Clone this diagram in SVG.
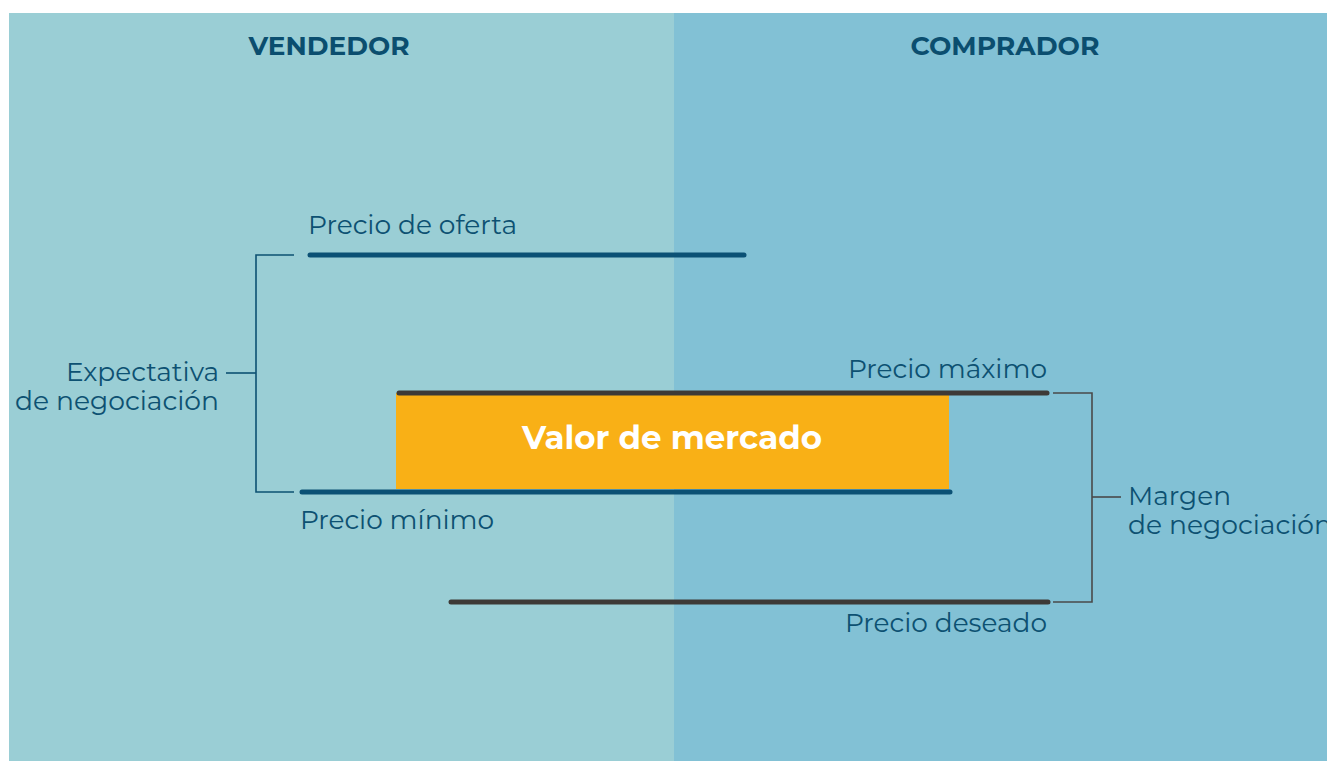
<svg xmlns="http://www.w3.org/2000/svg" width="1327" height="761" viewBox="0 0 1327 761">
<style>
.lbl{font-family:"Montserrat","Open Sans","Liberation Sans",sans-serif;font-size:26px;fill:#0D5172}
.hdr{font-family:"Montserrat","Open Sans","Liberation Sans",sans-serif;font-size:25px;font-weight:bold;fill:#0B4E6F}
.bar-blue{stroke:#0B5175;stroke-width:5;stroke-linecap:round;fill:none}
.bar-gray{stroke:#3D3A37;stroke-width:5;stroke-linecap:round;fill:none}
.br-blue{stroke:#0D5172;stroke-width:1.6;fill:none}
.br-gray{stroke:#4A4A4A;stroke-width:1.6;fill:none}
</style>
<rect x="0" y="0" width="1327" height="761" fill="#FFFFFF"/>
<g id="panel-vendedor">
<rect x="9" y="13" width="665" height="748" fill="#9ACED5"/>
<text class="hdr" x="329" y="55" text-anchor="middle" textLength="161" lengthAdjust="spacingAndGlyphs">VENDEDOR</text>
</g>
<g id="panel-comprador">
<rect x="674" y="13" width="653" height="748" fill="#82C1D5"/>
<text class="hdr" x="1005" y="55" text-anchor="middle" textLength="189" lengthAdjust="spacingAndGlyphs">COMPRADOR</text>
</g>
<g id="valor-mercado">
<rect x="396" y="393" width="553" height="96" fill="#F9B016"/>
<text x="672" y="449" text-anchor="middle" font-family="Montserrat,'Open Sans','Liberation Sans',sans-serif" font-size="32" font-weight="bold" fill="#FFFFFF" textLength="300" lengthAdjust="spacingAndGlyphs">Valor de mercado</text>
</g>
<g id="precio-oferta">
<line class="bar-blue" x1="310" y1="255" x2="744" y2="255"/>
<text class="lbl" x="308" y="234" textLength="209" lengthAdjust="spacingAndGlyphs">Precio de oferta</text>
</g>
<g id="precio-maximo">
<line class="bar-gray" x1="399" y1="393" x2="1047" y2="393"/>
<text class="lbl" x="1047" y="378" text-anchor="end" textLength="199" lengthAdjust="spacingAndGlyphs">Precio máximo</text>
</g>
<g id="precio-minimo">
<line class="bar-blue" x1="302" y1="492" x2="950" y2="492"/>
<text class="lbl" x="300" y="529" textLength="194" lengthAdjust="spacingAndGlyphs">Precio mínimo</text>
</g>
<g id="precio-deseado">
<line class="bar-gray" x1="451" y1="602" x2="1048" y2="602"/>
<text class="lbl" x="1047" y="632" text-anchor="end" textLength="202" lengthAdjust="spacingAndGlyphs">Precio deseado</text>
</g>
<g id="expectativa">
<text class="lbl" x="219" y="381" text-anchor="end" textLength="153" lengthAdjust="spacingAndGlyphs">Expectativa</text>
<text class="lbl" x="219" y="410" text-anchor="end" textLength="204" lengthAdjust="spacingAndGlyphs">de negociación</text>
</g>
<g id="margen">
<text class="lbl" x="1128" y="505" textLength="103" lengthAdjust="spacingAndGlyphs">Margen</text>
<text class="lbl" x="1128" y="534" textLength="204" lengthAdjust="spacingAndGlyphs">de negociación</text>
</g>
<g id="connectors">
<polyline class="br-blue" points="294,255 256,255 256,492 294,492"/>
<line class="br-blue" x1="226" y1="373" x2="256" y2="373"/>
<polyline class="br-gray" points="1053,393 1092,393 1092,602 1053,602"/>
<line class="br-gray" x1="1092" y1="497" x2="1121" y2="497"/>
</g>
</svg>
